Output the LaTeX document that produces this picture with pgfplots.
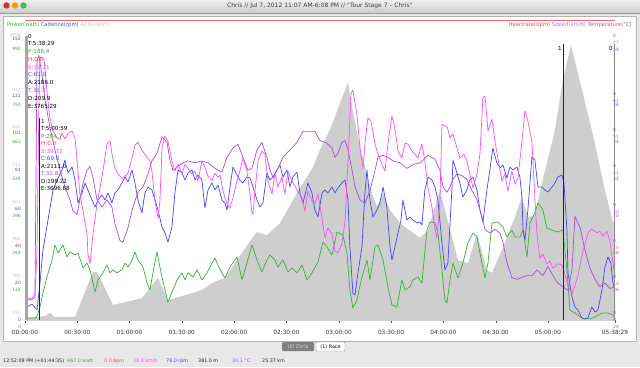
\documentclass[border=0pt]{standalone}
\usepackage{pgfplots}
\pgfplotsset{compat=1.18}
\usepackage{fontspec}
\setmainfont{DejaVu Sans}
\definecolor{pw}{RGB}{60,175,60}
\definecolor{cad}{RGB}{70,70,250}
\definecolor{spd}{RGB}{250,80,250}
\definecolor{tmp}{RGB}{165,80,215}
\definecolor{hr}{RGB}{250,70,70}
\definecolor{alt}{RGB}{206,206,206}
\definecolor{altlab}{RGB}{195,195,195}
\newcommand{\fs}[1]{\fontsize{#1}{#1}\selectfont}
\pgfplotsset{
 base0/.style={at={(25pt,47pt)}, anchor=south west, scale only axis, width=590pt, height=290pt,
   xmin=0, xmax=338.48, clip=true, axis y line*=left,
   y axis line style={draw=none,-}, ytick style={draw=none},
   yticklabel style={font=\fs{4.4}, inner sep=0pt, xshift=-4pt},
   every axis plot/.append style={line width=0.7pt, line join=round, mark=none}},
 base/.style={base0, hide x axis},
 rbase/.style={base, axis y line*=right, yticklabel style={font=\fs{4.4}, inner sep=0pt, xshift=2pt}},
}
\begin{document}
\begin{tikzpicture}
\useasboundingbox (0pt,0pt) rectangle (640pt,367pt);
\fill[black!9] (0pt,0pt) rectangle (640pt,367pt);
\shade[top color=black!6, bottom color=black!20] (0pt,354pt) rectangle (640pt,367pt);
\draw[black!40] (0pt,353.5pt) -- (640pt,353.5pt);
\fill[red!75!black!80] (6.5pt,361.5pt) circle (3.2pt);
\fill[orange!80!yellow] (15pt,361.5pt) circle (3.2pt);
\fill[green!60!black!70] (23.5pt,361.5pt) circle (3.2pt);
\node[font=\fs{6}, text=black!75] at (320pt,361pt) {Chris // Jul 7, 2012 11:07 AM-6:08 PM // “Tour Stage 7 – Chris”};
\fill[white, draw=black!30] (3pt,25.5pt) rectangle (636pt,351pt);
\draw[hr!80, line width=0.8pt] (25pt,347pt) -- (615pt,347pt);
\node[font=\fs{5.3}, anchor=west, inner sep=0pt] at (7pt,342pt) {\textcolor{pw}{Power(watt)} \textcolor{cad}{Cadence(rpm)} \textcolor{altlab}{Altitude(m)}};
\node[font=\fs{5.3}, anchor=east, inner sep=0pt] at (632pt,342pt) {\textcolor{hr}{Heartrate(bpm)} \textcolor{spd}{Speed(km/h)} \textcolor{tmp}{Temperature(°C)}};

% altitude
\begin{axis}[base0, ymin=270, ymax=1132,
  axis x line*=bottom, x axis line style={black!65, line width=0.6pt, -},
  xtick={0,30,60,90,120,150,180,210,240,270,300,338.48},
  xticklabels={00:00:00,00:30:00,01:00:00,01:30:00,02:00:00,02:30:00,03:00:00,03:30:00,04:00:00,04:30:00,05:00:00,05:38:29},
  xtick style={black!65}, xtick align=outside, major tick length=3pt,
  xticklabel style={font=\fs{5.8}, text=black!80, inner sep=1pt, yshift=-6pt},
  ytick={270,380,490,601,711,822,932,1098}, yticklabels={270,380,490,601,711,822,932,1098},
  yticklabel style={text=altlab, yshift=7pt}]
\addplot[draw=none, fill=alt] coordinates {(0,250) (0,276) (11.5,282) (14.3,291) (17.2,279) (28.7,279) (39.0,413) (41.3,413) (50.5,315) (57.4,323) (67.1,335) (76.3,395) (82.0,329) (95.8,350) (101.5,359) (107.3,380) (114.7,395) (121.6,448) (130.8,517) (133.1,531) (138.8,522) (146.3,558) (156.0,647) (165.2,724) (170.9,796) (174.9,834) (180.7,914) (185.3,977) (187.6,903) (192.2,784) (197.9,665) (201.9,606) (205.4,647) (209.4,597) (215.1,558) (226.6,514) (231.2,537) (238.0,656) (248.4,448) (254.1,439) (259.3,528) (265.0,419) (267.9,410) (273.6,478) (281.1,576) (285.1,635) (288.5,576) (292.5,582) (296.6,677) (304.0,834) (308.6,983) (313.2,1087) (317.2,1004) (325.2,834) (332.7,656) (337.3,561) (338.48,561) (338.48,250)};
\end{axis}

% power
\begin{axis}[base, ymin=0, ymax=1035,
  ytick={0,132,264,396,529,661,793,992}, yticklabels={0,132,264,396,529,661,793,992},
  yticklabel style={text=pw, yshift=-7pt}]
\addplot[pw] coordinates {(0,7) (5.7,7) (6.9,14) (8.6,46) (10.3,96) (12.6,154) (15.5,214) (17.2,268) (18.9,239) (21.8,268) (24.1,225) (25.8,243) (28.7,232) (30.4,239) (33.3,186) (35.6,203) (37.3,179) (40.2,100) (41.9,143) (44.7,168) (47.0,196) (48.8,168) (50.5,179) (52.8,168) (55.6,179) (57.4,203) (59.1,189) (61.4,214) (63.1,243) (64.8,214) (67.7,189) (70.0,132) (71.7,107) (73.4,168) (75.7,243) (77.4,189) (79.2,136) (82.0,64) (84.9,107) (87.2,143) (90.1,168) (91.8,143) (93.5,168) (96.4,154) (98.7,179) (101.5,143) (104.4,168) (107.3,203) (109.0,221) (110.7,196) (113.0,168) (114.7,150) (117.6,189) (121.6,225) (124.5,143) (127.3,203) (130.2,268) (133.1,214) (135.9,171) (138.8,214) (140.5,232) (143.4,214) (145.1,189) (148.0,214) (150.9,171) (153.2,186) (156.0,168) (158.9,196) (161.8,143) (164.6,168) (168.1,207) (170.9,278) (173.2,261) (176.1,232) (179.0,314) (182.4,303) (184.7,239) (186.4,107) (188.1,43) (190.4,71) (193.3,154) (196.2,214) (197.9,143) (200.8,261) (202.5,268) (205.4,214) (208.2,118) (210.5,54) (213.4,46) (216.2,143) (218.0,107) (220.8,118) (222.6,143) (225.4,154) (227.7,132) (230.6,321) (232.3,350) (235.2,346) (236.9,311) (239.2,179) (240.9,71) (242.1,61) (243.8,143) (245.5,203) (248.4,150) (251.2,203) (254.1,275) (257.0,311) (259.3,296) (262.1,203) (263.9,150) (265.6,203) (267.9,346) (271.3,350) (274.2,332) (276.5,296) (279.3,321) (281.1,296) (284.0,296) (285.7,321) (288.0,225) (289.7,346) (292.5,382) (294.3,418) (297.1,393) (299.4,328) (302.3,321) (305.7,314) (308.6,321) (310.9,179) (312.6,36) (315.5,25) (319.5,7) (324.1,4) (327.0,11) (331.0,25) (334.4,25) (337.3,18) (338.48,7)};
\end{axis}

% cadence
\begin{axis}[base, ymin=0, ymax=156.6,
  ytick={0,20,40,60,81,101,121,152}, yticklabels={0,20,40,60,81,101,121,152},
  yticklabel style={text=cad}]
\addplot[cad] coordinates {(1.1,7.0) (4.0,8.6) (6.9,5.4) (8.6,20.0) (10.3,37.8) (13.2,54.0) (16.1,70.2) (18.4,75.6) (21.2,81.0) (22.9,86.4) (24.7,79.4) (27.0,82.6) (28.7,75.6) (30.4,63.2) (32.7,68.6) (34.4,74.0) (36.1,70.2) (38.4,64.8) (40.2,61.0) (41.9,64.8) (44.2,67.5) (45.9,64.8) (47.6,68.6) (49.9,63.2) (51.6,68.6) (53.3,70.2) (55.6,74.0) (57.4,77.2) (59.1,74.5) (61.4,81.0) (63.1,74.0) (64.8,64.8) (67.1,57.8) (68.8,68.6) (70.6,71.8) (72.8,70.2) (74.6,64.8) (76.3,59.4) (78.6,50.2) (80.3,47.0) (82.0,42.1) (84.3,50.2) (86.0,68.6) (87.8,81.0) (90.1,79.4) (91.8,75.6) (93.5,79.4) (95.8,81.0) (97.5,75.6) (99.2,78.3) (101.5,75.6) (103.2,60.5) (105.0,70.2) (107.3,74.0) (109.0,70.2) (110.7,72.9) (113.0,64.8) (114.7,63.2) (115.9,59.4) (117.6,71.8) (119.3,82.6) (121.6,78.3) (123.3,75.6) (125.0,74.0) (127.3,77.2) (129.1,76.7) (130.8,71.8) (133.1,64.8) (134.8,61.0) (136.5,63.2) (138.8,79.4) (140.5,75.6) (142.3,77.2) (144.5,81.0) (146.3,83.7) (148.0,77.2) (150.3,81.0) (152.0,71.8) (153.7,77.2) (156.0,79.9) (157.7,68.6) (159.5,63.2) (162.3,74.0) (164.6,68.6) (166.3,59.4) (168.1,55.6) (170.4,68.6) (172.1,70.2) (173.8,68.6) (176.1,71.8) (177.8,68.6) (179.5,71.3) (181.8,74.0) (183.6,75.6) (185.3,64.8) (186.4,39.4) (188.1,14.6) (189.3,13.5) (191.0,25.4) (193.3,39.4) (195.0,68.6) (196.2,81.0) (197.9,64.8) (199.6,55.6) (201.9,59.4) (203.6,63.2) (205.4,71.8) (207.6,61.0) (209.4,39.4) (210.5,32.4) (212.2,39.4) (214.0,47.0) (215.7,54.0) (216.8,64.8) (219.1,54.0) (220.8,55.6) (222.6,54.0) (224.9,52.4) (226.6,52.9) (227.7,51.3) (229.4,70.2) (231.2,77.2) (233.5,75.6) (235.2,71.8) (236.9,64.8) (239.2,41.6) (240.9,27.0) (242.6,30.8) (244.9,70.2) (245.5,86.4) (247.8,79.4) (249.5,74.0) (251.2,66.4) (253.5,70.2) (255.2,75.6) (257.0,77.2) (259.3,70.2) (261.0,59.4) (262.7,52.9) (265.0,70.2) (266.7,81.0) (268.4,92.9) (270.7,84.8) (272.5,82.1) (274.2,83.7) (276.5,76.7) (278.2,82.6) (279.9,81.0) (282.2,82.6) (283.9,77.2) (285.1,66.4) (285.7,48.6) (286.8,43.2) (288.5,59.4) (290.8,88.0) (292.5,86.4) (294.3,71.8) (296.6,71.8) (298.3,70.2) (300.0,69.1) (302.3,71.8) (304.0,74.0) (305.7,77.2) (308.0,78.3) (309.2,74.0) (310.9,48.6) (311.5,25.4) (313.8,12.4) (315.5,7.0) (317.2,5.4) (319.5,1.1) (321.2,0.5) (322.9,1.1) (325.2,7.0) (327.0,4.3) (328.7,5.4) (331.0,16.2) (332.7,28.6) (334.4,34.0) (336.1,30.8) (337.3,20.0) (338.48,16.2)};
\end{axis}

% temperature
\begin{axis}[rbase, ymin=24, ymax=39.68,
  ytick={24,26,28,30,32,34,36,39}, yticklabels={24,26,28,30,32,34,36,39},
  yticklabel style={text=tmp, yshift=-7pt}]
\addplot[tmp] coordinates {(1.1,25.1) (4.0,25.1) (5.7,25.2) (6.9,38.0) (8.0,38.3) (9.8,37.2) (11.5,35.9) (14.3,34.4) (17.2,33.2) (20.1,32.1) (22.9,31.2) (25.8,30.5) (27.5,29.9) (29.8,29.7) (31.5,30.5) (33.3,31.4) (35.6,32.1) (37.3,32.3) (39.0,31.7) (41.3,30.5) (44.2,30.1) (47.0,30.5) (49.9,30.1) (51.6,29.2) (54.5,28.3) (56.2,28.2) (59.1,29.0) (61.9,30.1) (64.8,30.9) (67.7,31.2) (70.6,31.9) (72.8,32.6) (75.7,33.0) (78.6,33.9) (81.5,33.6) (83.2,32.6) (84.9,32.1) (87.8,32.3) (90.6,32.5) (93.5,32.6) (97.5,32.5) (101.5,32.6) (105.0,32.5) (109.0,32.2) (113.0,32.0) (115.9,32.8) (119.3,33.3) (122.2,33.5) (125.0,32.8) (127.9,32.1) (130.2,32.2) (133.1,33.2) (135.9,33.6) (138.8,32.8) (140.5,32.1) (142.3,31.7) (145.1,32.2) (148.0,32.8) (152.0,33.2) (156.0,33.6) (159.5,34.2) (163.5,34.2) (166.3,34.2) (169.2,33.7) (172.7,33.6) (176.1,33.3) (177.8,32.8) (179.5,33.0) (181.8,33.6) (183.6,33.7) (185.3,33.2) (187.6,32.1) (189.3,31.2) (192.2,30.5) (195.0,30.3) (197.9,31.0) (200.8,32.1) (202.5,32.8) (205.4,32.9) (208.2,32.8) (211.1,32.6) (215.1,32.5) (219.1,32.2) (222.6,32.4) (226.6,32.5) (231.2,32.9) (235.2,32.7) (238.0,32.1) (239.8,31.2) (242.1,30.9) (243.8,31.2) (245.5,31.6) (247.8,31.9) (250.7,31.8) (253.5,31.6) (256.4,31.0) (259.3,30.5) (262.1,29.6) (263.9,28.9) (266.7,28.7) (269.6,28.9) (272.5,28.7) (274.2,28.2) (276.5,27.1) (279.3,26.3) (282.2,26.2) (285.1,26.3) (288.0,26.4) (290.8,26.4) (293.7,26.7) (297.1,26.4) (300.0,26.9) (302.9,26.4) (305.7,26.0) (308.6,25.8) (311.5,25.6) (313.8,26.7) (315.5,29.6) (318.4,29.0) (321.2,27.8) (324.1,26.8) (327.0,26.2) (329.8,25.8) (332.7,26.0) (335.6,25.7) (338.48,25.8)};
\end{axis}

% heart rate labels
\begin{axis}[rbase, ymin=0, ymax=80.6,
  ytick={0,10,20,30,41,51,61,77}, yticklabels={0,0,0,0,0,0,0,0},
  yticklabel style={text=hr, yshift=7pt}]
\end{axis}

% speed
\begin{axis}[rbase, ymin=0, ymax=80.6,
  ytick={0,10,20,30,41,51,61,77}, yticklabels={0,10,20,30,41,51,61,77},
  yticklabel style={text=spd}]
\addplot[spd] coordinates {(1.1,5.8) (4.0,6.1) (5.7,7.2) (6.9,19.2) (8.0,60.0) (8.6,73.1) (10.9,72.5) (12.6,63.6) (14.3,56.1) (16.1,52.5) (18.4,50.6) (20.1,50.3) (21.2,51.9) (22.9,50.3) (24.7,51.9) (27.0,52.5) (28.7,50.6) (30.4,41.4) (31.5,35.0) (33.3,30.3) (35.6,23.9) (36.1,18.3) (37.3,15.6) (39.0,23.9) (41.3,32.2) (43.0,36.7) (44.7,41.4) (47.0,48.9) (48.8,49.7) (49.9,46.1) (51.6,42.2) (53.3,40.6) (55.6,39.4) (57.4,40.0) (59.1,40.8) (61.4,45.0) (63.1,48.6) (64.8,49.4) (67.1,47.2) (69.4,45.6) (71.7,44.2) (72.8,41.4) (74.6,33.1) (76.3,28.3) (77.4,33.1) (78.6,47.8) (80.3,51.1) (82.0,49.7) (84.3,44.2) (86.0,41.4) (87.8,43.3) (90.1,40.6) (91.8,43.3) (93.5,42.2) (95.8,40.6) (97.5,41.4) (99.2,38.6) (101.5,44.2) (103.2,42.5) (105.0,40.0) (107.3,38.9) (109.0,40.8) (110.7,39.7) (111.9,40.3) (113.6,35.8) (115.9,32.2) (117.6,31.1) (119.3,33.9) (121.6,38.6) (123.3,41.4) (125.0,45.0) (127.3,41.4) (129.1,35.0) (130.2,29.7) (130.8,29.4) (131.9,35.8) (133.7,44.2) (135.9,46.9) (137.6,46.1) (139.4,38.6) (141.7,35.0) (143.4,40.8) (145.1,36.9) (147.4,39.7) (149.1,35.0) (150.9,41.4) (153.2,38.6) (154.9,37.2) (156.6,35.8) (158.9,33.9) (160.6,30.3) (162.3,35.8) (164.6,33.1) (166.3,32.2) (168.1,35.0) (170.4,28.3) (172.1,22.8) (173.8,25.6) (176.1,23.9) (177.8,19.2) (179.5,18.6) (181.8,21.1) (183.6,27.5) (185.3,44.2) (187.0,62.8) (188.1,63.9) (190.4,57.2) (192.2,47.8) (193.9,42.2) (195.0,48.9) (196.7,56.1) (198.5,55.3) (200.8,48.9) (202.5,46.1) (204.8,43.3) (206.5,41.4) (208.2,48.9) (210.5,56.7) (212.2,53.3) (214.0,46.9) (216.2,45.0) (218.0,49.2) (219.7,48.9) (222.0,46.9) (223.7,46.1) (225.4,45.0) (227.7,48.9) (229.4,44.2) (231.2,36.7) (233.5,31.1) (235.2,25.6) (236.3,22.8) (238.0,32.2) (239.2,54.4) (240.9,53.9) (242.1,53.9) (243.8,50.6) (245.5,51.7) (247.8,47.8) (249.5,45.0) (251.8,46.1) (253.5,44.2) (255.2,40.6) (257.0,36.7) (259.3,40.6) (261.0,46.1) (262.7,61.7) (263.9,62.2) (265.6,52.5) (267.9,55.8) (269.6,49.7) (271.3,45.0) (273.6,38.6) (275.3,40.6) (277.1,35.8) (279.3,41.4) (281.1,37.8) (282.8,39.4) (285.1,49.7) (286.8,58.1) (288.5,55.3) (290.8,49.7) (292.5,33.9) (293.7,23.9) (295.4,17.2) (297.1,18.3) (299.4,15.6) (301.1,16.4) (302.9,14.4) (305.7,15.6) (308.0,15.3) (309.7,12.8) (311.5,9.4) (313.8,7.2) (317.2,12.2) (320.1,19.2) (323.0,24.2) (325.2,25.3) (328.1,24.2) (329.8,24.7) (331.5,23.3) (333.8,24.7) (335.6,21.9) (337.3,15.8) (338.48,12.2)};
\end{axis}

% cursors and info blocks
\fill[black!35] (24.5pt,47pt) rectangle (27.5pt,331pt);
\draw[black!85, line width=0.6pt] (39.3pt,47pt) -- (39.3pt,249pt);
\draw[black!85, line width=0.6pt] (563pt,47pt) -- (563pt,323pt);
\draw[black!45, line width=0.6pt] (614.5pt,47pt) -- (614.5pt,323pt);
\node[font=\fs{5.6}, anchor=east, inner sep=0pt] at (562pt,319pt) {1};
\node[font=\fs{5.6}, anchor=east, inner sep=0pt] at (613pt,319pt) {0};
\begin{scope}[every node/.style={font=\fs{5.6}, anchor=west, inner sep=0pt}]
\node at (28pt,331pt) {0};
\node at (28pt,323.2pt) {T:5:38:29};
\node[text=pw] at (28pt,315.4pt) {P:186.4};
\node[text=hr] at (28pt,307.7pt) {H:0.0};
\node[text=spd] at (28pt,299.9pt) {S:37.21};
\node[text=cad] at (28pt,292.1pt) {C:61.0};
\node at (28pt,284.3pt) {A:2186.0};
\node[text=tmp] at (28pt,276.6pt) {T:31.3};
\node at (28pt,268.8pt) {D:209.9};
\node at (28pt,261pt) {E:3765.29};
\node at (41pt,246pt) {1};
\node at (41pt,238.5pt) {T:5:00:59};
\node[text=pw] at (41pt,231pt) {P:204.7};
\node[text=hr] at (41pt,223.5pt) {H:0.0};
\node[text=spd] at (41pt,216pt) {S:39.72};
\node[text=cad] at (41pt,208.5pt) {C:69.0};
\node at (41pt,201pt) {A:2111.0};
\node[text=tmp] at (41pt,193.5pt) {T:31.8};
\node at (41pt,186pt) {D:199.22};
\node at (41pt,178.5pt) {E:3696.68};
\end{scope}

% bottom controls
\fill[black!50, rounded corners=1pt] (282pt,16pt) rectangle (314pt,25pt);
\node[font=\fs{4.8}, text=black!15] at (298pt,20.5pt) {(0) Chris};
\draw[black!40, fill=white, rounded corners=1pt] (316pt,16pt) rectangle (345pt,25pt);
\node[font=\fs{4.8}] at (330.5pt,20.5pt) {(1) Race};
\begin{scope}[every node/.style={font=\fs{4.8}, anchor=west, inner sep=0pt}]
\node[text=black!85] at (3pt,6pt) {12:52:09 PM (+01:44:35)};
\node[text=pw] at (67pt,6pt) {467.0 watt};
\node[text=hr] at (104pt,6pt) {0.0 bpm};
\node[text=spd] at (133pt,6pt) {36.4 km/h};
\node[text=cad] at (166pt,6pt) {76.0 rpm};
\node[text=black!85] at (198pt,6pt) {381.0 m};
\node[text=tmp] at (232pt,6pt) {30.1 °C};
\node[text=black!85] at (262pt,6pt) {25.37 km};
\end{scope}
\end{tikzpicture}
\end{document}
